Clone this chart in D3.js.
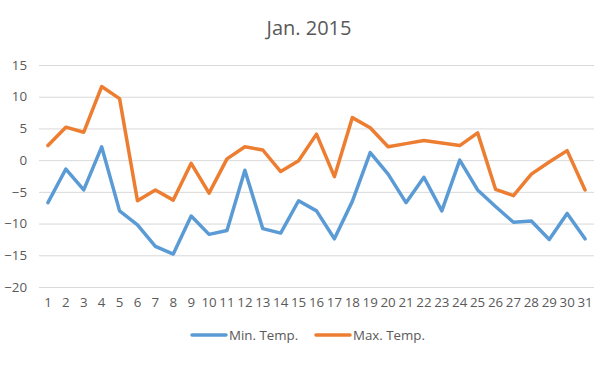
<!DOCTYPE html>
<html>
<head>
<meta charset="utf-8">
<script src="https://cdn.jsdelivr.net/npm/d3@7"></script>
<style>
  body { margin: 0; background: #fff; }
  text { font-family: "Open Sans", "DejaVu Sans", sans-serif; fill: #595959; }
</style>
</head>
<body>
<div id="chart"></div>
<script>
// data
const days = d3.range(1, 32).map(String)
const minTemp = [-6.7, -1.4, -4.7, 2.1, -8.0, -10.2, -13.6, -14.8, -8.8, -11.7,
    -11.1, -1.6, -10.8, -11.5, -6.4, -8.0, -12.4, -6.5, 1.2, -2.2,
    -6.7, -2.7, -8.0, 0.0, -4.7, -7.3, -9.8, -9.6, -12.5, -8.4, -12.4]
const maxTemp = [2.3, 5.2, 4.4, 11.6, 9.7, -6.4, -4.7, -6.3, -0.5, -5.2,
    0.2, 2.1, 1.6, -1.8, -0.1, 4.1, -2.6, 6.7, 5.1, 2.1,
    2.6, 3.1, 2.7, 2.3, 4.3, -4.6, -5.6, -2.2, -0.3, 1.5, -4.7]
const yTicks = [15, 10, 5, 0, -5, -10, -15, -20]
const seriesNames = ['Min. Temp.', 'Max. Temp.']
const colors = ['#5B9BD5', '#ED7D31']

// dimensions
const W = 613, H = 370
const margin = { top: 65, right: 19, bottom: 83, left: 39 }
const width = W - margin.left - margin.right
const height = H - margin.top - margin.bottom

const svg = d3.select('#chart')
    .append('svg')
    .attr('width', W)
    .attr('height', H)

// title
svg.append('text')
    .attr('x', 309)
    .attr('y', 35)
    .attr('text-anchor', 'middle')
    .style('font-size', '20px')
    .text('Jan. 2015')

const g = svg.append('g')
    .attr('transform', `translate(${margin.left}, ${margin.top})`)

// scales
const xScale = d3.scaleBand()
    .domain(days)
    .range([0, width])

const yScale = d3.scaleLinear()
    .domain([-20, 15])
    .range([height, 0])

// gridlines
g.append('g')
    .selectAll('line')
    .data(yTicks)
    .enter()
    .append('line')
    .attr('x1', 0)
    .attr('x2', width)
    .attr('y1', d => yScale(d) + 0.5)
    .attr('y2', d => yScale(d) + 0.5)
    .attr('stroke', '#D9D9D9')
    .attr('stroke-width', 1)

// y axis
const yAxis = d3.axisLeft(yScale).tickValues(yTicks).tickSize(0).tickPadding(12)
g.append('g')
    .call(yAxis)
    .call(a => a.select('.domain').remove())
    .selectAll('text')
    .style('font-size', '13.3px')
    .attr('fill', '#595959')

// x axis
const xAxis = d3.axisBottom(xScale).tickSize(0).tickPadding(11)
g.append('g')
    .attr('transform', `translate(0, ${height})`)
    .call(xAxis)
    .call(a => a.select('.domain').remove())
    .selectAll('text')
    .style('font-size', '13.3px')
    .attr('fill', '#595959')

// lines
const line = d3.line()
    .x((d, i) => xScale(days[i]) + xScale.bandwidth() / 2)
    .y(d => yScale(d))

;[minTemp, maxTemp].forEach((s, i) => {
    g.append('path')
        .datum(s)
        .attr('fill', 'none')
        .attr('stroke', colors[i])
        .attr('stroke-width', 3.5)
        .attr('stroke-linejoin', 'round')
        .attr('stroke-linecap', 'round')
        .attr('d', line)
})

// legend
const legendX = [192, 316]
const legend = svg.append('g')
seriesNames.forEach((name, i) => {
    legend.append('line')
        .attr('x1', legendX[i])
        .attr('x2', legendX[i] + 34)
        .attr('y1', 335)
        .attr('y2', 335)
        .attr('stroke', colors[i])
        .attr('stroke-width', 3.5)
        .attr('stroke-linecap', 'round')
    legend.append('text')
        .attr('x', legendX[i] + 37)
        .attr('y', 339.5)
        .style('font-size', '13.3px')
        .text(name)
})
</script>
</body>
</html>
